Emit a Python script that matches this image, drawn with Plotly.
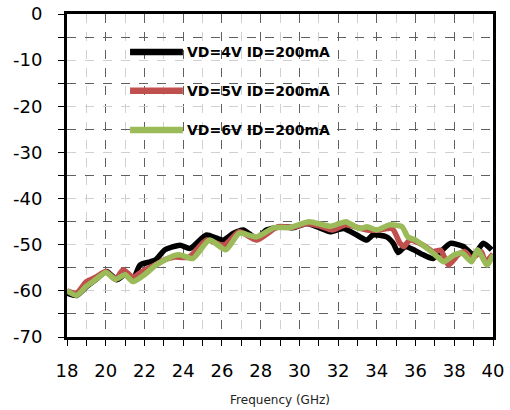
import plotly.graph_objects as go

# ---- data ----
freq_4v = [18.0, 18.5, 19.0, 19.5, 20.05, 20.57, 21.0, 21.4, 21.77, 22.3, 22.6, 23.06, 23.84, 24.35,
           25.2, 25.73, 26.07, 26.6, 27.1, 27.8, 28.3, 29.17, 29.7, 30.38, 30.9, 31.6, 32.27,
           32.96, 33.48, 33.8, 34.5, 34.85, 35.1, 35.46, 35.9, 36.4, 36.9, 37.3, 37.8, 38.47,
           38.99, 39.5, 39.93]
loss_4v = [-60.5, -61.0, -59.1, -57.5, -55.8, -57.6, -56.5, -57.6, -54.4, -53.7, -53.2, -51.1, -50.1, -50.8,
           -47.9, -48.6, -49.0, -47.5, -46.8, -48.6, -46.8, -46.1, -46.3, -45.4, -46.1, -47.2, -46.5,
           -47.9, -49.0, -47.9, -48.3, -49.7, -51.7, -50.4, -51.1, -52.2, -53.0, -51.5, -49.7, -50.4,
           -52.2, -49.7, -51.1]

freq_5v = [18.0, 18.5, 19.0, 19.5, 20.0, 20.5, 20.9, 21.4, 22.0, 22.5, 23.0, 23.5, 24.3, 25.2,
           26.1, 26.9, 27.8, 28.9, 29.7, 30.4, 31.1, 31.7, 32.4, 33.5, 34.1, 34.8, 35.2, 35.4,
           35.7, 36.4, 36.9, 37.3, 37.7, 38.2, 38.55, 38.9, 39.4, 39.6, 40.0]
loss_5v = [-60.0, -60.5, -58.0, -57.0, -55.8, -57.5, -55.4, -57.0, -55.5, -54.5, -53.3, -52.7, -52.7, -49.0,
           -50.1, -47.2, -49.0, -46.1, -46.2, -45.4, -46.0, -46.8, -45.7, -46.8, -46.8, -46.5, -49.7, -50.4,
           -49.0, -50.1, -51.5, -51.2, -54.4, -52.2, -51.5, -53.0, -51.5, -53.7, -52.0]

freq_6v = [18.0, 18.5, 19.0, 19.5, 20.0, 20.5, 21.0, 21.4, 22.0, 22.6, 23.5, 23.85, 24.5, 25.35,
           26.2, 26.9, 27.8, 28.7, 29.5, 30.5, 31.6, 32.4, 33.1, 33.5, 34.0, 34.65, 35.3, 35.6,
           36.0, 36.6, 37.15, 37.45, 38.0, 38.4, 38.9, 39.2, 39.7, 40.0]
loss_6v = [-60.0, -61.0, -59.0, -57.5, -56.0, -57.5, -56.5, -58.0, -56.5, -54.4, -52.4, -52.2, -53.0, -49.0,
           -51.1, -47.5, -48.3, -46.3, -46.3, -45.0, -46.0, -45.0, -46.5, -46.1, -46.8, -45.7, -46.1, -48.3,
           -49.0, -50.8, -52.7, -53.7, -52.2, -51.8, -53.7, -51.1, -54.4, -52.2]

series_names = ["VD=4V ID=200mA", "VD=5V ID=200mA", "VD=6V ID=200mA"]
series_colors = ["#000000", "#C0504D", "#9BBB59"]
x_ticks = list(range(18, 41, 2))
y_ticks = list(range(-70, 1, 10))

fig = go.Figure()
for fx, fy, name, col in zip([freq_4v, freq_5v, freq_6v], [loss_4v, loss_5v, loss_6v],
                             series_names, series_colors):
    fig.add_trace(go.Scatter(x=fx, y=fy, mode="lines", name=name,
                             line=dict(color=col, width=5.5, shape="spline", smoothing=0.6),
                             showlegend=False))

# manual legend (line samples + labels) in paper coordinates
leg_y = [0.882, 0.762, 0.641]
for name, col, ly in zip(series_names, series_colors, leg_y):
    fig.add_shape(type="line", xref="paper", yref="paper", x0=0.148, x1=0.272, y0=ly, y1=ly,
                  line=dict(color=col, width=6.5))
    fig.add_annotation(xref="paper", yref="paper", x=0.277, y=ly, text=name, showarrow=False,
                       xanchor="left", yanchor="middle",
                       font=dict(family="DejaVu Sans", size=14, color="#000000", weight="bold"))

fig.update_layout(
    width=510, height=410,
    margin=dict(l=67, r=17, t=14, b=73, autoexpand=False),
    paper_bgcolor="white", plot_bgcolor="white",
    font=dict(family="DejaVu Sans", color="#000000"),
)
fig.update_xaxes(
    range=[18, 40], tickvals=x_ticks, ticktext=[str(v) for v in x_ticks],
    tickfont=dict(size=18), ticks="outside", ticklen=6, tickwidth=1, tickcolor="#000",
    showline=True, linecolor="#000", linewidth=3, mirror=True,
    showgrid=True, gridcolor="#606060", griddash="dash", gridwidth=1,
    minor=dict(dtick=1, showgrid=True, gridcolor="#d0d0d0", griddash="dash",
               ticks="outside", ticklen=6, tickcolor="#000"),
    ticklabelstandoff=9,
    title=dict(text="Frequency (GHz)", font=dict(size=12, color="#222"), standoff=17),
    zeroline=False, automargin=False,
)
fig.update_yaxes(
    range=[-70, 0], tickvals=y_ticks, ticktext=[str(v) for v in y_ticks],
    tickfont=dict(size=18), ticks="outside", ticklen=6, tickwidth=1, tickcolor="#000",
    showline=True, linecolor="#000", linewidth=3, mirror=True,
    showgrid=True, gridcolor="#d0d0d0", griddash="dash", gridwidth=1,
    minor=dict(dtick=5, showgrid=True, gridcolor="#606060", griddash="dash",
               ticks="outside", ticklen=6, tickcolor="#000"),
    ticklabelstandoff=12,
    zeroline=False, automargin=False,
)

fig.write_html("out.html")
